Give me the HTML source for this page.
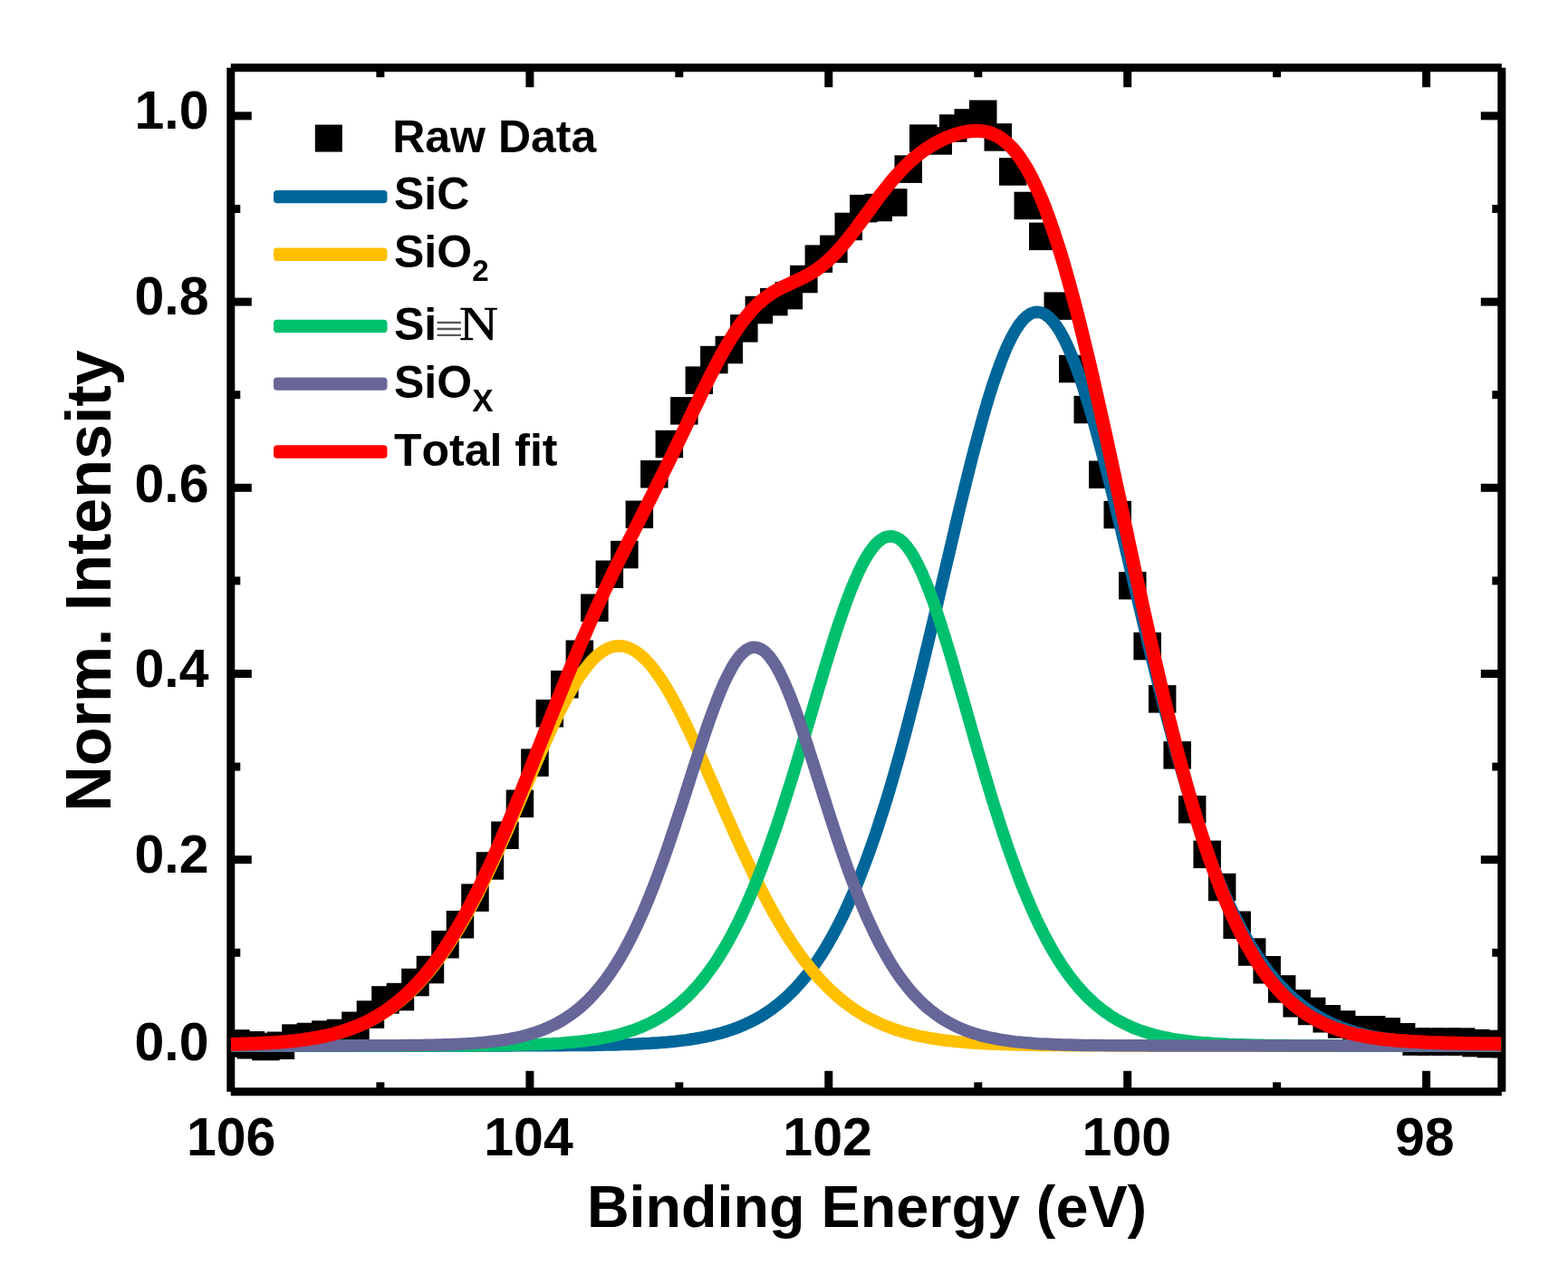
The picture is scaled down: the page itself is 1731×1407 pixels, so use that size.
<!DOCTYPE html><html><head><meta charset="utf-8"><style>html,body{margin:0;padding:0;background:#fff;}svg{display:block;}text{font-kerning:none;}</style></head><body>
<svg width="1731" height="1407" viewBox="0 0 1731 1407">
<rect width="1731" height="1407" fill="#fff"/>
<defs><clipPath id="pc"><rect x="254.8" y="74.75" width="1403.0" height="1130.05"/></clipPath></defs>
<g stroke="#000" stroke-width="9" fill="none">
<line x1="419.9" y1="1204.8" x2="419.9" y2="1194.3"/>
<line x1="419.9" y1="74.75" x2="419.9" y2="85.25"/>
<line x1="584.9" y1="1204.8" x2="584.9" y2="1181.8"/>
<line x1="584.9" y1="74.75" x2="584.9" y2="96.25"/>
<line x1="749.8" y1="1204.8" x2="749.8" y2="1194.3"/>
<line x1="749.8" y1="74.75" x2="749.8" y2="85.25"/>
<line x1="914.8" y1="1204.8" x2="914.8" y2="1181.8"/>
<line x1="914.8" y1="74.75" x2="914.8" y2="96.25"/>
<line x1="1079.8" y1="1204.8" x2="1079.8" y2="1194.3"/>
<line x1="1079.8" y1="74.75" x2="1079.8" y2="85.25"/>
<line x1="1244.7" y1="1204.8" x2="1244.7" y2="1181.8"/>
<line x1="1244.7" y1="74.75" x2="1244.7" y2="96.25"/>
<line x1="1409.6" y1="1204.8" x2="1409.6" y2="1194.3"/>
<line x1="1409.6" y1="74.75" x2="1409.6" y2="85.25"/>
<line x1="1574.6" y1="1204.8" x2="1574.6" y2="1181.8"/>
<line x1="1574.6" y1="74.75" x2="1574.6" y2="96.25"/>
<line x1="254.8" y1="1153.9" x2="277.8" y2="1153.9"/>
<line x1="1657.8" y1="1153.9" x2="1634.8" y2="1153.9"/>
<line x1="254.8" y1="1051.3" x2="265.3" y2="1051.3"/>
<line x1="1657.8" y1="1051.3" x2="1647.3" y2="1051.3"/>
<line x1="254.8" y1="948.7" x2="277.8" y2="948.7"/>
<line x1="1657.8" y1="948.7" x2="1634.8" y2="948.7"/>
<line x1="254.8" y1="846.1" x2="265.3" y2="846.1"/>
<line x1="1657.8" y1="846.1" x2="1647.3" y2="846.1"/>
<line x1="254.8" y1="743.5" x2="277.8" y2="743.5"/>
<line x1="1657.8" y1="743.5" x2="1634.8" y2="743.5"/>
<line x1="254.8" y1="640.9" x2="265.3" y2="640.9"/>
<line x1="1657.8" y1="640.9" x2="1647.3" y2="640.9"/>
<line x1="254.8" y1="538.3" x2="277.8" y2="538.3"/>
<line x1="1657.8" y1="538.3" x2="1634.8" y2="538.3"/>
<line x1="254.8" y1="435.7" x2="265.3" y2="435.7"/>
<line x1="1657.8" y1="435.7" x2="1647.3" y2="435.7"/>
<line x1="254.8" y1="333.1" x2="277.8" y2="333.1"/>
<line x1="1657.8" y1="333.1" x2="1634.8" y2="333.1"/>
<line x1="254.8" y1="230.5" x2="265.3" y2="230.5"/>
<line x1="1657.8" y1="230.5" x2="1647.3" y2="230.5"/>
<line x1="254.8" y1="127.9" x2="277.8" y2="127.9"/>
<line x1="1657.8" y1="127.9" x2="1634.8" y2="127.9"/>
</g>
<g stroke="#000" stroke-width="9" fill="none">
<line x1="254.8" y1="74.75" x2="1657.8" y2="74.75"/>
<line x1="254.8" y1="1204.8" x2="1657.8" y2="1204.8"/>
<line x1="254.8" y1="74.75" x2="254.8" y2="1204.8"/>
<line x1="1657.8" y1="74.75" x2="1657.8" y2="1204.8"/>
</g>
<g clip-path="url(#pc)" fill="#000">
<rect x="245.2" y="1136.2" width="30.5" height="30.5"/>
<rect x="261.7" y="1138.0" width="30.5" height="30.5"/>
<rect x="278.2" y="1139.8" width="30.5" height="30.5"/>
<rect x="294.7" y="1138.5" width="30.5" height="30.5"/>
<rect x="311.2" y="1130.3" width="30.5" height="30.5"/>
<rect x="327.7" y="1128.7" width="30.5" height="30.5"/>
<rect x="344.2" y="1126.3" width="30.5" height="30.5"/>
<rect x="360.7" y="1124.7" width="30.5" height="30.5"/>
<rect x="377.2" y="1116.5" width="30.5" height="30.5"/>
<rect x="393.7" y="1104.3" width="30.5" height="30.5"/>
<rect x="410.2" y="1088.2" width="30.5" height="30.5"/>
<rect x="426.7" y="1084.8" width="30.5" height="30.5"/>
<rect x="443.2" y="1068.8" width="30.5" height="30.5"/>
<rect x="459.7" y="1054.8" width="30.5" height="30.5"/>
<rect x="476.2" y="1027.0" width="30.5" height="30.5"/>
<rect x="492.7" y="1005.0" width="30.5" height="30.5"/>
<rect x="509.2" y="975.4" width="30.5" height="30.5"/>
<rect x="525.7" y="940.2" width="30.5" height="30.5"/>
<rect x="542.2" y="906.5" width="30.5" height="30.5"/>
<rect x="558.7" y="871.6" width="30.5" height="30.5"/>
<rect x="575.2" y="826.4" width="30.5" height="30.5"/>
<rect x="591.6" y="772.0" width="30.5" height="30.5"/>
<rect x="608.1" y="740.0" width="30.5" height="30.5"/>
<rect x="624.6" y="706.5" width="30.5" height="30.5"/>
<rect x="641.1" y="655.5" width="30.5" height="30.5"/>
<rect x="657.6" y="618.5" width="30.5" height="30.5"/>
<rect x="674.1" y="596.8" width="30.5" height="30.5"/>
<rect x="690.6" y="552.5" width="30.5" height="30.5"/>
<rect x="707.1" y="508.0" width="30.5" height="30.5"/>
<rect x="723.6" y="474.8" width="30.5" height="30.5"/>
<rect x="740.1" y="438.1" width="30.5" height="30.5"/>
<rect x="756.6" y="404.4" width="30.5" height="30.5"/>
<rect x="773.1" y="381.8" width="30.5" height="30.5"/>
<rect x="789.6" y="370.8" width="30.5" height="30.5"/>
<rect x="806.1" y="347.1" width="30.5" height="30.5"/>
<rect x="822.6" y="326.8" width="30.5" height="30.5"/>
<rect x="839.1" y="317.9" width="30.5" height="30.5"/>
<rect x="855.6" y="310.9" width="30.5" height="30.5"/>
<rect x="872.1" y="292.8" width="30.5" height="30.5"/>
<rect x="888.6" y="270.4" width="30.5" height="30.5"/>
<rect x="905.1" y="259.6" width="30.5" height="30.5"/>
<rect x="921.5" y="234.7" width="30.5" height="30.5"/>
<rect x="938.0" y="214.9" width="30.5" height="30.5"/>
<rect x="954.5" y="213.8" width="30.5" height="30.5"/>
<rect x="971.0" y="208.2" width="30.5" height="30.5"/>
<rect x="987.5" y="171.4" width="30.5" height="30.5"/>
<rect x="1004.0" y="137.4" width="30.5" height="30.5"/>
<rect x="1020.5" y="140.2" width="30.5" height="30.5"/>
<rect x="1037.0" y="126.3" width="30.5" height="30.5"/>
<rect x="1053.5" y="120.2" width="30.5" height="30.5"/>
<rect x="1070.0" y="110.5" width="30.5" height="30.5"/>
<rect x="1086.5" y="136.2" width="30.5" height="30.5"/>
<rect x="1103.0" y="174.2" width="30.5" height="30.5"/>
<rect x="1119.5" y="211.7" width="30.5" height="30.5"/>
<rect x="1136.0" y="245.6" width="30.5" height="30.5"/>
<rect x="1152.5" y="322.4" width="30.5" height="30.5"/>
<rect x="1169.0" y="391.8" width="30.5" height="30.5"/>
<rect x="1185.5" y="436.8" width="30.5" height="30.5"/>
<rect x="1202.0" y="508.5" width="30.5" height="30.5"/>
<rect x="1218.5" y="552.8" width="30.5" height="30.5"/>
<rect x="1235.0" y="631.0" width="30.5" height="30.5"/>
<rect x="1251.4" y="697.8" width="30.5" height="30.5"/>
<rect x="1267.9" y="756.1" width="30.5" height="30.5"/>
<rect x="1284.4" y="818.1" width="30.5" height="30.5"/>
<rect x="1300.9" y="878.0" width="30.5" height="30.5"/>
<rect x="1317.4" y="927.6" width="30.5" height="30.5"/>
<rect x="1333.9" y="963.8" width="30.5" height="30.5"/>
<rect x="1350.4" y="1005.5" width="30.5" height="30.5"/>
<rect x="1366.9" y="1035.3" width="30.5" height="30.5"/>
<rect x="1383.4" y="1055.0" width="30.5" height="30.5"/>
<rect x="1399.9" y="1076.2" width="30.5" height="30.5"/>
<rect x="1416.4" y="1092.0" width="30.5" height="30.5"/>
<rect x="1432.9" y="1100.7" width="30.5" height="30.5"/>
<rect x="1449.4" y="1109.0" width="30.5" height="30.5"/>
<rect x="1465.9" y="1115.2" width="30.5" height="30.5"/>
<rect x="1482.4" y="1121.0" width="30.5" height="30.5"/>
<rect x="1498.9" y="1121.0" width="30.5" height="30.5"/>
<rect x="1515.4" y="1123.0" width="30.5" height="30.5"/>
<rect x="1531.9" y="1129.0" width="30.5" height="30.5"/>
<rect x="1548.4" y="1134.3" width="30.5" height="30.5"/>
<rect x="1564.9" y="1134.3" width="30.5" height="30.5"/>
<rect x="1581.3" y="1134.3" width="30.5" height="30.5"/>
<rect x="1597.8" y="1134.3" width="30.5" height="30.5"/>
<rect x="1614.3" y="1135.8" width="30.5" height="30.5"/>
<rect x="1630.8" y="1136.8" width="30.5" height="30.5"/>
<rect x="1647.3" y="1136.8" width="30.5" height="30.5"/>
</g>
<g fill="none" stroke-linejoin="round">
<polyline stroke="#006699" stroke-width="13.5" points="255.0,1153.9 259.1,1153.9 263.2,1153.9 267.4,1153.9 271.5,1153.9 275.6,1153.9 279.7,1153.9 283.9,1153.9 288.0,1153.9 292.1,1153.9 296.2,1153.9 300.4,1153.9 304.5,1153.9 308.6,1153.9 312.7,1153.9 316.9,1153.9 321.0,1153.9 325.1,1153.9 329.2,1153.9 333.4,1153.9 337.5,1153.9 341.6,1153.9 345.7,1153.9 349.8,1153.9 354.0,1153.9 358.1,1153.9 362.2,1153.9 366.3,1153.9 370.5,1153.9 374.6,1153.9 378.7,1153.9 382.8,1153.9 387.0,1153.9 391.1,1153.9 395.2,1153.9 399.3,1153.9 403.5,1153.9 407.6,1153.9 411.7,1153.9 415.8,1153.9 419.9,1153.9 424.1,1153.9 428.2,1153.9 432.3,1153.9 436.4,1153.9 440.6,1153.9 444.7,1153.9 448.8,1153.9 452.9,1153.9 457.1,1153.9 461.2,1153.9 465.3,1153.9 469.4,1153.9 473.6,1153.9 477.7,1153.9 481.8,1153.9 485.9,1153.9 490.1,1153.9 494.2,1153.9 498.3,1153.9 502.4,1153.9 506.5,1153.9 510.7,1153.9 514.8,1153.9 518.9,1153.9 523.0,1153.9 527.2,1153.9 531.3,1153.9 535.4,1153.9 539.5,1153.9 543.7,1153.9 547.8,1153.9 551.9,1153.9 556.0,1153.9 560.2,1153.9 564.3,1153.9 568.4,1153.8 572.5,1153.8 576.7,1153.8 580.8,1153.8 584.9,1153.8 589.0,1153.8 593.1,1153.8 597.3,1153.8 601.4,1153.8 605.5,1153.8 609.6,1153.7 613.8,1153.7 617.9,1153.7 622.0,1153.7 626.1,1153.6 630.3,1153.6 634.4,1153.6 638.5,1153.5 642.6,1153.5 646.8,1153.5 650.9,1153.4 655.0,1153.4 659.1,1153.3 663.3,1153.2 667.4,1153.1 671.5,1153.1 675.6,1153.0 679.7,1152.9 683.9,1152.8 688.0,1152.6 692.1,1152.5 696.2,1152.4 700.4,1152.2 704.5,1152.0 708.6,1151.8 712.7,1151.6 716.9,1151.4 721.0,1151.1 725.1,1150.9 729.2,1150.6 733.4,1150.2 737.5,1149.9 741.6,1149.5 745.7,1149.1 749.8,1148.6 754.0,1148.1 758.1,1147.6 762.2,1147.0 766.3,1146.3 770.5,1145.6 774.6,1144.9 778.7,1144.1 782.8,1143.2 787.0,1142.3 791.1,1141.3 795.2,1140.2 799.3,1139.0 803.5,1137.7 807.6,1136.3 811.7,1134.8 815.8,1133.3 820.0,1131.6 824.1,1129.7 828.2,1127.8 832.3,1125.7 836.4,1123.5 840.6,1121.1 844.7,1118.5 848.8,1115.8 852.9,1112.9 857.1,1109.7 861.2,1106.4 865.3,1102.9 869.4,1099.2 873.6,1095.2 877.7,1091.0 881.8,1086.5 885.9,1081.8 890.1,1076.8 894.2,1071.5 898.3,1065.9 902.4,1060.0 906.6,1053.8 910.7,1047.2 914.8,1040.3 918.9,1033.0 923.0,1025.4 927.2,1017.4 931.3,1009.0 935.4,1000.2 939.5,991.0 943.7,981.4 947.8,971.4 951.9,960.9 956.0,950.1 960.2,938.7 964.3,927.0 968.4,914.8 972.5,902.2 976.7,889.2 980.8,875.7 984.9,861.8 989.0,847.5 993.2,832.7 997.3,817.6 1001.4,802.2 1005.5,786.3 1009.6,770.2 1013.8,753.7 1017.9,736.9 1022.0,719.9 1026.1,702.7 1030.3,685.3 1034.4,667.8 1038.5,650.1 1042.6,632.5 1046.8,614.8 1050.9,597.2 1055.0,579.6 1059.1,562.3 1063.3,545.2 1067.4,528.3 1071.5,511.8 1075.6,495.8 1079.8,480.2 1083.9,465.1 1088.0,450.7 1092.1,436.9 1096.2,423.9 1100.4,411.7 1104.5,400.4 1108.6,389.9 1112.7,380.4 1116.9,372.0 1121.0,364.6 1125.1,358.3 1129.2,353.1 1133.4,349.1 1137.5,346.3 1141.6,344.7 1145.7,344.3 1149.9,345.1 1154.0,347.0 1158.1,350.1 1162.2,354.4 1166.3,359.7 1170.5,366.2 1174.6,373.7 1178.7,382.3 1182.8,391.8 1187.0,402.2 1191.1,413.5 1195.2,425.7 1199.3,438.6 1203.5,452.2 1207.6,466.5 1211.7,481.4 1215.8,496.8 1220.0,512.6 1224.1,528.9 1228.2,545.5 1232.3,562.3 1236.5,579.4 1240.6,596.7 1244.7,614.0 1248.8,631.4 1252.9,648.8 1257.1,666.2 1261.2,683.5 1265.3,700.6 1269.4,717.6 1273.6,734.4 1277.7,750.9 1281.8,767.2 1285.9,783.2 1290.1,798.8 1294.2,814.2 1298.3,829.1 1302.4,843.7 1306.6,857.9 1310.7,871.7 1314.8,885.1 1318.9,898.1 1323.1,910.7 1327.2,922.8 1331.3,934.5 1335.4,945.8 1339.5,956.7 1343.7,967.2 1347.8,977.2 1351.9,986.8 1356.0,996.1 1360.2,1004.9 1364.3,1013.4 1368.4,1021.4 1372.5,1029.1 1376.7,1036.5 1380.8,1043.5 1384.9,1050.1 1389.0,1056.4 1393.2,1062.4 1397.3,1068.1 1401.4,1073.5 1405.5,1078.6 1409.6,1083.5 1413.8,1088.1 1417.9,1092.4 1422.0,1096.4 1426.1,1100.3 1430.3,1103.9 1434.4,1107.3 1438.5,1110.5 1442.6,1113.5 1446.8,1116.4 1450.9,1119.0 1455.0,1121.5 1459.1,1123.8 1463.3,1126.0 1467.4,1128.1 1471.5,1130.0 1475.6,1131.7 1479.8,1133.4 1483.9,1135.0 1488.0,1136.4 1492.1,1137.8 1496.2,1139.0 1500.4,1140.2 1504.5,1141.3 1508.6,1142.3 1512.7,1143.2 1516.9,1144.1 1521.0,1144.9 1525.1,1145.6 1529.2,1146.3 1533.4,1146.9 1537.5,1147.5 1541.6,1148.0 1545.7,1148.5 1549.9,1149.0 1554.0,1149.4 1558.1,1149.8 1562.2,1150.2 1566.4,1150.5 1570.5,1150.8 1574.6,1151.1 1578.7,1151.3 1582.8,1151.6 1587.0,1151.8 1591.1,1152.0 1595.2,1152.1 1599.3,1152.3 1603.5,1152.5 1607.6,1152.6 1611.7,1152.7 1615.8,1152.8 1620.0,1152.9 1624.1,1153.0 1628.2,1153.1 1632.3,1153.2 1636.5,1153.3 1640.6,1153.3 1644.7,1153.4 1648.8,1153.4 1653.0,1153.5 1657.1,1153.5"/>
<polyline stroke="#FFC000" stroke-width="13.5" points="255.0,1153.0 259.1,1152.9 263.2,1152.7 267.4,1152.6 271.5,1152.5 275.6,1152.3 279.7,1152.2 283.9,1152.0 288.0,1151.8 292.1,1151.6 296.2,1151.3 300.4,1151.0 304.5,1150.8 308.6,1150.4 312.7,1150.1 316.9,1149.7 321.0,1149.3 325.1,1148.9 329.2,1148.4 333.4,1147.9 337.5,1147.3 341.6,1146.7 345.7,1146.0 349.8,1145.3 354.0,1144.5 358.1,1143.6 362.2,1142.7 366.3,1141.7 370.5,1140.7 374.6,1139.5 378.7,1138.3 382.8,1137.0 387.0,1135.6 391.1,1134.1 395.2,1132.4 399.3,1130.7 403.5,1128.8 407.6,1126.9 411.7,1124.7 415.8,1122.5 419.9,1120.1 424.1,1117.5 428.2,1114.8 432.3,1112.0 436.4,1108.9 440.6,1105.7 444.7,1102.3 448.8,1098.7 452.9,1094.9 457.1,1090.9 461.2,1086.7 465.3,1082.2 469.4,1077.6 473.6,1072.7 477.7,1067.6 481.8,1062.2 485.9,1056.6 490.1,1050.8 494.2,1044.7 498.3,1038.4 502.4,1031.8 506.5,1025.0 510.7,1018.0 514.8,1010.7 518.9,1003.1 523.0,995.4 527.2,987.4 531.3,979.1 535.4,970.7 539.5,962.1 543.7,953.3 547.8,944.3 551.9,935.1 556.0,925.8 560.2,916.4 564.3,906.9 568.4,897.3 572.5,887.6 576.7,877.9 580.8,868.2 584.9,858.5 589.0,848.8 593.1,839.3 597.3,829.8 601.4,820.5 605.5,811.4 609.6,802.5 613.8,793.8 617.9,785.4 622.0,777.3 626.1,769.5 630.3,762.1 634.4,755.2 638.5,748.6 642.6,742.6 646.8,737.0 650.9,731.9 655.0,727.4 659.1,723.5 663.3,720.2 667.4,717.4 671.5,715.3 675.6,713.8 679.7,712.9 683.9,712.7 688.0,713.1 692.1,714.1 696.2,715.7 700.4,717.9 704.5,720.7 708.6,724.1 712.7,728.0 716.9,732.5 721.0,737.4 725.1,742.9 729.2,748.8 733.4,755.2 737.5,762.0 741.6,769.2 745.7,776.8 749.8,784.6 754.0,792.8 758.1,801.3 762.2,809.9 766.3,818.8 770.5,827.9 774.6,837.1 778.7,846.4 782.8,855.8 787.0,865.2 791.1,874.7 795.2,884.1 799.3,893.6 803.5,903.0 807.6,912.3 811.7,921.6 815.8,930.7 820.0,939.7 824.1,948.5 828.2,957.2 832.3,965.8 836.4,974.1 840.6,982.3 844.7,990.2 848.8,997.9 852.9,1005.4 857.1,1012.7 861.2,1019.8 865.3,1026.6 869.4,1033.2 873.6,1039.6 877.7,1045.7 881.8,1051.6 885.9,1057.3 890.1,1062.7 894.2,1067.9 898.3,1072.9 902.4,1077.6 906.6,1082.2 910.7,1086.5 914.8,1090.6 918.9,1094.5 923.0,1098.3 927.2,1101.8 931.3,1105.2 935.4,1108.3 939.5,1111.3 943.7,1114.2 947.8,1116.9 951.9,1119.4 956.0,1121.8 960.2,1124.0 964.3,1126.1 968.4,1128.1 972.5,1130.0 976.7,1131.7 980.8,1133.3 984.9,1134.9 989.0,1136.3 993.2,1137.6 997.3,1138.9 1001.4,1140.0 1005.5,1141.1 1009.6,1142.1 1013.8,1143.1 1017.9,1143.9 1022.0,1144.7 1026.1,1145.5 1030.3,1146.2 1034.4,1146.8 1038.5,1147.4 1042.6,1148.0 1046.8,1148.5 1050.9,1148.9 1055.0,1149.4 1059.1,1149.8 1063.3,1150.1 1067.4,1150.5 1071.5,1150.8 1075.6,1151.0 1079.8,1151.3 1083.9,1151.5 1088.0,1151.8 1092.1,1152.0 1096.2,1152.1 1100.4,1152.3 1104.5,1152.5 1108.6,1152.6 1112.7,1152.7 1116.9,1152.8 1121.0,1152.9 1125.1,1153.0 1129.2,1153.1 1133.4,1153.2 1137.5,1153.3 1141.6,1153.3 1145.7,1153.4 1149.9,1153.4 1154.0,1153.5 1158.1,1153.5 1162.2,1153.6 1166.3,1153.6 1170.5,1153.6 1174.6,1153.7 1178.7,1153.7 1182.8,1153.7 1187.0,1153.7 1191.1,1153.8 1195.2,1153.8 1199.3,1153.8 1203.5,1153.8 1207.6,1153.8 1211.7,1153.8 1215.8,1153.8 1220.0,1153.8 1224.1,1153.8 1228.2,1153.8 1232.3,1153.9 1236.5,1153.9 1240.6,1153.9 1244.7,1153.9 1248.8,1153.9 1252.9,1153.9 1257.1,1153.9 1261.2,1153.9 1265.3,1153.9 1269.4,1153.9 1273.6,1153.9 1277.7,1153.9 1281.8,1153.9 1285.9,1153.9 1290.1,1153.9 1294.2,1153.9 1298.3,1153.9 1302.4,1153.9 1306.6,1153.9 1310.7,1153.9 1314.8,1153.9 1318.9,1153.9 1323.1,1153.9 1327.2,1153.9 1331.3,1153.9 1335.4,1153.9 1339.5,1153.9 1343.7,1153.9 1347.8,1153.9 1351.9,1153.9 1356.0,1153.9 1360.2,1153.9 1364.3,1153.9 1368.4,1153.9 1372.5,1153.9 1376.7,1153.9 1380.8,1153.9 1384.9,1153.9 1389.0,1153.9 1393.2,1153.9 1397.3,1153.9 1401.4,1153.9 1405.5,1153.9 1409.6,1153.9 1413.8,1153.9 1417.9,1153.9 1422.0,1153.9 1426.1,1153.9 1430.3,1153.9 1434.4,1153.9 1438.5,1153.9 1442.6,1153.9 1446.8,1153.9 1450.9,1153.9 1455.0,1153.9 1459.1,1153.9 1463.3,1153.9 1467.4,1153.9 1471.5,1153.9 1475.6,1153.9 1479.8,1153.9 1483.9,1153.9 1488.0,1153.9 1492.1,1153.9 1496.2,1153.9 1500.4,1153.9 1504.5,1153.9 1508.6,1153.9 1512.7,1153.9 1516.9,1153.9 1521.0,1153.9 1525.1,1153.9 1529.2,1153.9 1533.4,1153.9 1537.5,1153.9 1541.6,1153.9 1545.7,1153.9 1549.9,1153.9 1554.0,1153.9 1558.1,1153.9 1562.2,1153.9 1566.4,1153.9 1570.5,1153.9 1574.6,1153.9 1578.7,1153.9 1582.8,1153.9 1587.0,1153.9 1591.1,1153.9 1595.2,1153.9 1599.3,1153.9 1603.5,1153.9 1607.6,1153.9 1611.7,1153.9 1615.8,1153.9 1620.0,1153.9 1624.1,1153.9 1628.2,1153.9 1632.3,1153.9 1636.5,1153.9 1640.6,1153.9 1644.7,1153.9 1648.8,1153.9 1653.0,1153.9 1657.1,1153.9"/>
<polyline stroke="#00C06E" stroke-width="13.5" points="255.0,1153.9 259.1,1153.9 263.2,1153.9 267.4,1153.9 271.5,1153.9 275.6,1153.9 279.7,1153.9 283.9,1153.9 288.0,1153.9 292.1,1153.9 296.2,1153.9 300.4,1153.9 304.5,1153.9 308.6,1153.9 312.7,1153.9 316.9,1153.9 321.0,1153.9 325.1,1153.9 329.2,1153.9 333.4,1153.9 337.5,1153.9 341.6,1153.9 345.7,1153.9 349.8,1153.9 354.0,1153.9 358.1,1153.9 362.2,1153.9 366.3,1153.9 370.5,1153.9 374.6,1153.9 378.7,1153.9 382.8,1153.9 387.0,1153.9 391.1,1153.9 395.2,1153.9 399.3,1153.9 403.5,1153.9 407.6,1153.9 411.7,1153.9 415.8,1153.9 419.9,1153.9 424.1,1153.9 428.2,1153.9 432.3,1153.9 436.4,1153.9 440.6,1153.9 444.7,1153.9 448.8,1153.9 452.9,1153.9 457.1,1153.9 461.2,1153.9 465.3,1153.9 469.4,1153.9 473.6,1153.9 477.7,1153.8 481.8,1153.8 485.9,1153.8 490.1,1153.8 494.2,1153.8 498.3,1153.8 502.4,1153.8 506.5,1153.8 510.7,1153.8 514.8,1153.7 518.9,1153.7 523.0,1153.7 527.2,1153.7 531.3,1153.6 535.4,1153.6 539.5,1153.6 543.7,1153.5 547.8,1153.5 551.9,1153.4 556.0,1153.4 560.2,1153.3 564.3,1153.2 568.4,1153.1 572.5,1153.0 576.7,1152.9 580.8,1152.8 584.9,1152.7 589.0,1152.6 593.1,1152.4 597.3,1152.3 601.4,1152.1 605.5,1151.9 609.6,1151.7 613.8,1151.4 617.9,1151.2 622.0,1150.9 626.1,1150.6 630.3,1150.2 634.4,1149.8 638.5,1149.4 642.6,1149.0 646.8,1148.5 650.9,1147.9 655.0,1147.3 659.1,1146.7 663.3,1146.0 667.4,1145.2 671.5,1144.4 675.6,1143.5 679.7,1142.5 683.9,1141.5 688.0,1140.3 692.1,1139.1 696.2,1137.7 700.4,1136.3 704.5,1134.7 708.6,1133.1 712.7,1131.2 716.9,1129.3 721.0,1127.2 725.1,1125.0 729.2,1122.6 733.4,1120.0 737.5,1117.2 741.6,1114.3 745.7,1111.1 749.8,1107.8 754.0,1104.2 758.1,1100.3 762.2,1096.3 766.3,1091.9 770.5,1087.3 774.6,1082.5 778.7,1077.3 782.8,1071.8 787.0,1066.0 791.1,1059.9 795.2,1053.5 799.3,1046.7 803.5,1039.6 807.6,1032.1 811.7,1024.2 815.8,1016.0 820.0,1007.3 824.1,998.3 828.2,988.9 832.3,979.1 836.4,969.0 840.6,958.4 844.7,947.4 848.8,936.1 852.9,924.4 857.1,912.4 861.2,900.1 865.3,887.4 869.4,874.4 873.6,861.2 877.7,847.7 881.8,834.1 885.9,820.3 890.1,806.3 894.2,792.3 898.3,778.3 902.4,764.3 906.6,750.5 910.7,736.7 914.8,723.2 918.9,710.0 923.0,697.1 927.2,684.7 931.3,672.8 935.4,661.4 939.5,650.7 943.7,640.7 947.8,631.4 951.9,623.0 956.0,615.5 960.2,609.0 964.3,603.4 968.4,598.9 972.5,595.5 976.7,593.1 980.8,591.9 984.9,591.8 989.0,592.9 993.2,595.2 997.3,598.7 1001.4,603.4 1005.5,609.1 1009.6,616.0 1013.8,623.8 1017.9,632.6 1022.0,642.3 1026.1,652.8 1030.3,664.0 1034.4,675.9 1038.5,688.4 1042.6,701.5 1046.8,714.9 1050.9,728.7 1055.0,742.8 1059.1,757.1 1063.3,771.5 1067.4,786.0 1071.5,800.5 1075.6,814.9 1079.8,829.3 1083.9,843.4 1088.0,857.4 1092.1,871.2 1096.2,884.7 1100.4,897.8 1104.5,910.7 1108.6,923.2 1112.7,935.3 1116.9,947.0 1121.0,958.3 1125.1,969.3 1129.2,979.8 1133.4,989.9 1137.5,999.6 1141.6,1008.8 1145.7,1017.7 1149.9,1026.1 1154.0,1034.2 1158.1,1041.8 1162.2,1049.1 1166.3,1056.0 1170.5,1062.5 1174.6,1068.7 1178.7,1074.5 1182.8,1080.0 1187.0,1085.2 1191.1,1090.1 1195.2,1094.6 1199.3,1099.0 1203.5,1103.0 1207.6,1106.8 1211.7,1110.3 1215.8,1113.6 1220.0,1116.7 1224.1,1119.6 1228.2,1122.3 1232.3,1124.8 1236.5,1127.1 1240.6,1129.3 1244.7,1131.3 1248.8,1133.2 1252.9,1134.9 1257.1,1136.5 1261.2,1138.0 1265.3,1139.3 1269.4,1140.6 1273.6,1141.8 1277.7,1142.8 1281.8,1143.8 1285.9,1144.7 1290.1,1145.5 1294.2,1146.3 1298.3,1147.0 1302.4,1147.6 1306.6,1148.2 1310.7,1148.8 1314.8,1149.2 1318.9,1149.7 1323.1,1150.1 1327.2,1150.5 1331.3,1150.8 1335.4,1151.1 1339.5,1151.4 1343.7,1151.6 1347.8,1151.9 1351.9,1152.1 1356.0,1152.3 1360.2,1152.4 1364.3,1152.6 1368.4,1152.7 1372.5,1152.8 1376.7,1153.0 1380.8,1153.1 1384.9,1153.2 1389.0,1153.2 1393.2,1153.3 1397.3,1153.4 1401.4,1153.4 1405.5,1153.5 1409.6,1153.5 1413.8,1153.6 1417.9,1153.6 1422.0,1153.6 1426.1,1153.7 1430.3,1153.7 1434.4,1153.7 1438.5,1153.7 1442.6,1153.8 1446.8,1153.8 1450.9,1153.8 1455.0,1153.8 1459.1,1153.8 1463.3,1153.8 1467.4,1153.8 1471.5,1153.8 1475.6,1153.9 1479.8,1153.9 1483.9,1153.9 1488.0,1153.9 1492.1,1153.9 1496.2,1153.9 1500.4,1153.9 1504.5,1153.9 1508.6,1153.9 1512.7,1153.9 1516.9,1153.9 1521.0,1153.9 1525.1,1153.9 1529.2,1153.9 1533.4,1153.9 1537.5,1153.9 1541.6,1153.9 1545.7,1153.9 1549.9,1153.9 1554.0,1153.9 1558.1,1153.9 1562.2,1153.9 1566.4,1153.9 1570.5,1153.9 1574.6,1153.9 1578.7,1153.9 1582.8,1153.9 1587.0,1153.9 1591.1,1153.9 1595.2,1153.9 1599.3,1153.9 1603.5,1153.9 1607.6,1153.9 1611.7,1153.9 1615.8,1153.9 1620.0,1153.9 1624.1,1153.9 1628.2,1153.9 1632.3,1153.9 1636.5,1153.9 1640.6,1153.9 1644.7,1153.9 1648.8,1153.9 1653.0,1153.9 1657.1,1153.9"/>
<polyline stroke="#666699" stroke-width="13.5" points="255.0,1153.9 259.1,1153.9 263.2,1153.9 267.4,1153.9 271.5,1153.9 275.6,1153.9 279.7,1153.9 283.9,1153.9 288.0,1153.9 292.1,1153.9 296.2,1153.9 300.4,1153.9 304.5,1153.9 308.6,1153.9 312.7,1153.9 316.9,1153.9 321.0,1153.9 325.1,1153.9 329.2,1153.9 333.4,1153.9 337.5,1153.9 341.6,1153.9 345.7,1153.9 349.8,1153.9 354.0,1153.9 358.1,1153.9 362.2,1153.9 366.3,1153.9 370.5,1153.9 374.6,1153.9 378.7,1153.9 382.8,1153.9 387.0,1153.9 391.1,1153.9 395.2,1153.8 399.3,1153.8 403.5,1153.8 407.6,1153.8 411.7,1153.8 415.8,1153.8 419.9,1153.8 424.1,1153.8 428.2,1153.7 432.3,1153.7 436.4,1153.7 440.6,1153.7 444.7,1153.6 448.8,1153.6 452.9,1153.6 457.1,1153.5 461.2,1153.5 465.3,1153.4 469.4,1153.3 473.6,1153.3 477.7,1153.2 481.8,1153.1 485.9,1153.0 490.1,1152.8 494.2,1152.7 498.3,1152.6 502.4,1152.4 506.5,1152.2 510.7,1152.0 514.8,1151.8 518.9,1151.5 523.0,1151.3 527.2,1150.9 531.3,1150.6 535.4,1150.2 539.5,1149.8 543.7,1149.3 547.8,1148.8 551.9,1148.3 556.0,1147.7 560.2,1147.0 564.3,1146.2 568.4,1145.4 572.5,1144.5 576.7,1143.6 580.8,1142.5 584.9,1141.3 589.0,1140.1 593.1,1138.7 597.3,1137.2 601.4,1135.5 605.5,1133.8 609.6,1131.8 613.8,1129.8 617.9,1127.5 622.0,1125.1 626.1,1122.4 630.3,1119.6 634.4,1116.6 638.5,1113.3 642.6,1109.8 646.8,1106.0 650.9,1101.9 655.0,1097.6 659.1,1092.9 663.3,1088.0 667.4,1082.7 671.5,1077.1 675.6,1071.1 679.7,1064.8 683.9,1058.1 688.0,1051.0 692.1,1043.5 696.2,1035.6 700.4,1027.2 704.5,1018.5 708.6,1009.4 712.7,999.8 716.9,989.8 721.0,979.4 725.1,968.7 729.2,957.5 733.4,946.0 737.5,934.2 741.6,922.0 745.7,909.7 749.8,897.1 754.0,884.3 758.1,871.4 762.2,858.5 766.3,845.6 770.5,832.9 774.6,820.3 778.7,808.0 782.8,796.0 787.0,784.5 791.1,773.6 795.2,763.3 799.3,753.8 803.5,745.1 807.6,737.3 811.7,730.6 815.8,724.9 820.0,720.4 824.1,717.1 828.2,715.0 832.3,714.2 836.4,714.7 840.6,716.4 844.7,719.4 848.8,723.7 852.9,729.1 857.1,735.7 861.2,743.3 865.3,751.9 869.4,761.4 873.6,771.6 877.7,782.5 881.8,794.1 885.9,806.1 890.1,818.5 894.2,831.2 898.3,844.0 902.4,857.1 906.6,870.1 910.7,883.1 914.8,896.0 918.9,908.8 923.0,921.3 927.2,933.6 931.3,945.6 935.4,957.2 939.5,968.5 943.7,979.4 947.8,989.9 951.9,999.9 956.0,1009.6 960.2,1018.8 964.3,1027.6 968.4,1036.0 972.5,1044.0 976.7,1051.5 980.8,1058.7 984.9,1065.4 989.0,1071.8 993.2,1077.8 997.3,1083.4 1001.4,1088.7 1005.5,1093.7 1009.6,1098.3 1013.8,1102.6 1017.9,1106.7 1022.0,1110.5 1026.1,1114.0 1030.3,1117.2 1034.4,1120.3 1038.5,1123.1 1042.6,1125.7 1046.8,1128.1 1050.9,1130.3 1055.0,1132.4 1059.1,1134.3 1063.3,1136.0 1067.4,1137.7 1071.5,1139.1 1075.6,1140.5 1079.8,1141.7 1083.9,1142.9 1088.0,1143.9 1092.1,1144.9 1096.2,1145.7 1100.4,1146.5 1104.5,1147.3 1108.6,1147.9 1112.7,1148.5 1116.9,1149.1 1121.0,1149.6 1125.1,1150.0 1129.2,1150.4 1133.4,1150.8 1137.5,1151.1 1141.6,1151.4 1145.7,1151.7 1149.9,1151.9 1154.0,1152.1 1158.1,1152.3 1162.2,1152.5 1166.3,1152.7 1170.5,1152.8 1174.6,1152.9 1178.7,1153.0 1182.8,1153.1 1187.0,1153.2 1191.1,1153.3 1195.2,1153.4 1199.3,1153.4 1203.5,1153.5 1207.6,1153.5 1211.7,1153.6 1215.8,1153.6 1220.0,1153.7 1224.1,1153.7 1228.2,1153.7 1232.3,1153.7 1236.5,1153.8 1240.6,1153.8 1244.7,1153.8 1248.8,1153.8 1252.9,1153.8 1257.1,1153.8 1261.2,1153.8 1265.3,1153.8 1269.4,1153.9 1273.6,1153.9 1277.7,1153.9 1281.8,1153.9 1285.9,1153.9 1290.1,1153.9 1294.2,1153.9 1298.3,1153.9 1302.4,1153.9 1306.6,1153.9 1310.7,1153.9 1314.8,1153.9 1318.9,1153.9 1323.1,1153.9 1327.2,1153.9 1331.3,1153.9 1335.4,1153.9 1339.5,1153.9 1343.7,1153.9 1347.8,1153.9 1351.9,1153.9 1356.0,1153.9 1360.2,1153.9 1364.3,1153.9 1368.4,1153.9 1372.5,1153.9 1376.7,1153.9 1380.8,1153.9 1384.9,1153.9 1389.0,1153.9 1393.2,1153.9 1397.3,1153.9 1401.4,1153.9 1405.5,1153.9 1409.6,1153.9 1413.8,1153.9 1417.9,1153.9 1422.0,1153.9 1426.1,1153.9 1430.3,1153.9 1434.4,1153.9 1438.5,1153.9 1442.6,1153.9 1446.8,1153.9 1450.9,1153.9 1455.0,1153.9 1459.1,1153.9 1463.3,1153.9 1467.4,1153.9 1471.5,1153.9 1475.6,1153.9 1479.8,1153.9 1483.9,1153.9 1488.0,1153.9 1492.1,1153.9 1496.2,1153.9 1500.4,1153.9 1504.5,1153.9 1508.6,1153.9 1512.7,1153.9 1516.9,1153.9 1521.0,1153.9 1525.1,1153.9 1529.2,1153.9 1533.4,1153.9 1537.5,1153.9 1541.6,1153.9 1545.7,1153.9 1549.9,1153.9 1554.0,1153.9 1558.1,1153.9 1562.2,1153.9 1566.4,1153.9 1570.5,1153.9 1574.6,1153.9 1578.7,1153.9 1582.8,1153.9 1587.0,1153.9 1591.1,1153.9 1595.2,1153.9 1599.3,1153.9 1603.5,1153.9 1607.6,1153.9 1611.7,1153.9 1615.8,1153.9 1620.0,1153.9 1624.1,1153.9 1628.2,1153.9 1632.3,1153.9 1636.5,1153.9 1640.6,1153.9 1644.7,1153.9 1648.8,1153.9 1653.0,1153.9 1657.1,1153.9"/>
<polyline stroke="#FF0000" stroke-width="15" points="255.0,1152.4 259.1,1152.3 263.2,1152.2 267.4,1152.1 271.5,1152.0 275.6,1151.8 279.7,1151.7 283.9,1151.5 288.0,1151.3 292.1,1151.1 296.2,1150.9 300.4,1150.6 304.5,1150.4 308.6,1150.1 312.7,1149.7 316.9,1149.4 321.0,1149.0 325.1,1148.6 329.2,1148.1 333.4,1147.6 337.5,1147.0 341.6,1146.4 345.7,1145.7 349.8,1145.0 354.0,1144.2 358.1,1143.4 362.2,1142.5 366.3,1141.5 370.5,1140.4 374.6,1139.2 378.7,1138.0 382.8,1136.6 387.0,1135.2 391.1,1133.6 395.2,1132.0 399.3,1130.2 403.5,1128.3 407.6,1126.2 411.7,1124.0 415.8,1121.7 419.9,1119.2 424.1,1116.6 428.2,1113.8 432.3,1110.8 436.4,1107.7 440.6,1104.3 444.7,1100.8 448.8,1097.1 452.9,1093.1 457.1,1089.0 461.2,1084.6 465.3,1080.1 469.4,1075.3 473.6,1070.2 477.7,1065.0 481.8,1059.5 485.9,1053.8 490.1,1047.8 494.2,1041.6 498.3,1035.1 502.4,1028.4 506.5,1021.4 510.7,1014.2 514.8,1006.8 518.9,999.1 523.0,991.2 527.2,983.1 531.3,974.7 535.4,966.1 539.5,957.3 543.7,948.3 547.8,939.2 551.9,929.8 556.0,920.3 560.2,910.6 564.3,900.7 568.4,890.8 572.5,880.7 576.7,870.5 580.8,860.3 584.9,849.9 589.0,839.5 593.1,829.1 597.3,818.7 601.4,808.2 605.5,797.8 609.6,787.4 613.8,777.1 617.9,766.8 622.0,756.6 626.1,746.4 630.3,736.4 634.4,726.5 638.5,716.7 642.6,707.0 646.8,697.5 650.9,688.1 655.0,678.8 659.1,669.7 663.3,660.8 667.4,651.9 671.5,643.2 675.6,634.6 679.7,626.1 683.9,617.7 688.0,609.4 692.1,601.2 696.2,593.0 700.4,584.9 704.5,576.8 708.6,568.7 712.7,560.6 716.9,552.5 721.0,544.3 725.1,536.1 729.2,527.9 733.4,519.5 737.5,511.2 741.6,502.7 745.7,494.2 749.8,485.7 754.0,477.1 758.1,468.5 762.2,459.8 766.3,451.2 770.5,442.6 774.6,434.1 778.7,425.7 782.8,417.5 787.0,409.4 791.1,401.4 795.2,393.8 799.3,386.4 803.5,379.3 807.6,372.5 811.7,366.1 815.8,360.0 820.0,354.3 824.1,349.1 828.2,344.2 832.3,339.8 836.4,335.7 840.6,332.0 844.7,328.7 848.8,325.7 852.9,323.0 857.1,320.6 861.2,318.3 865.3,316.3 869.4,314.3 873.6,312.4 877.7,310.5 881.8,308.6 885.9,306.6 890.1,304.5 894.2,302.2 898.3,299.6 902.4,296.9 906.6,293.8 910.7,290.5 914.8,286.9 918.9,282.9 923.0,278.7 927.2,274.2 931.3,269.4 935.4,264.4 939.5,259.2 943.7,253.8 947.8,248.3 951.9,242.7 956.0,237.0 960.2,231.4 964.3,225.7 968.4,220.1 972.5,214.6 976.7,209.3 980.8,204.1 984.9,199.1 989.0,194.3 993.2,189.8 997.3,185.5 1001.4,181.4 1005.5,177.6 1009.6,174.0 1013.8,170.6 1017.9,167.5 1022.0,164.6 1026.1,161.9 1030.3,159.4 1034.4,157.1 1038.5,155.0 1042.6,153.0 1046.8,151.3 1050.9,149.7 1055.0,148.3 1059.1,147.0 1063.3,146.0 1067.4,145.2 1071.5,144.7 1075.6,144.4 1079.8,144.4 1083.9,144.7 1088.0,145.3 1092.1,146.4 1096.2,147.9 1100.4,149.8 1104.5,152.2 1108.6,155.2 1112.7,158.7 1116.9,162.8 1121.0,167.5 1125.1,172.9 1129.2,179.0 1133.4,185.7 1137.5,193.1 1141.6,201.3 1145.7,210.2 1149.9,219.8 1154.0,230.1 1158.1,241.2 1162.2,252.9 1166.3,265.3 1170.5,278.4 1174.6,292.2 1178.7,306.6 1182.8,321.6 1187.0,337.1 1191.1,353.1 1195.2,369.7 1199.3,386.7 1203.5,404.1 1207.6,421.9 1211.7,440.0 1215.8,458.4 1220.0,477.0 1224.1,495.8 1228.2,514.8 1232.3,533.9 1236.5,553.1 1240.6,572.3 1244.7,591.4 1248.8,610.5 1252.9,629.6 1257.1,648.5 1261.2,667.2 1265.3,685.7 1269.4,704.0 1273.6,722.1 1277.7,739.8 1281.8,757.3 1285.9,774.4 1290.1,791.2 1294.2,807.5 1298.3,823.5 1302.4,839.1 1306.6,854.3 1310.7,869.0 1314.8,883.3 1318.9,897.1 1323.1,910.5 1327.2,923.4 1331.3,935.8 1335.4,947.8 1339.5,959.3 1343.7,970.4 1347.8,981.0 1351.9,991.1 1356.0,1000.8 1360.2,1010.1 1364.3,1018.9 1368.4,1027.3 1372.5,1035.3 1376.7,1042.9 1380.8,1050.1 1384.9,1056.9 1389.0,1063.4 1393.2,1069.5 1397.3,1075.2 1401.4,1080.6 1405.5,1085.7 1409.6,1090.5 1413.8,1095.0 1417.9,1099.2 1422.0,1103.2 1426.1,1106.9 1430.3,1110.3 1434.4,1113.5 1438.5,1116.5 1442.6,1119.3 1446.8,1121.9 1450.9,1124.3 1455.0,1126.6 1459.1,1128.6 1463.3,1130.6 1467.4,1132.3 1471.5,1134.0 1475.6,1135.5 1479.8,1136.9 1483.9,1138.2 1488.0,1139.4 1492.1,1140.5 1496.2,1141.5 1500.4,1142.4 1504.5,1143.2 1508.6,1144.0 1512.7,1144.7 1516.9,1145.3 1521.0,1145.9 1525.1,1146.5 1529.2,1147.0 1533.4,1147.4 1537.5,1147.8 1541.6,1148.2 1545.7,1148.5 1549.9,1148.8 1554.0,1149.1 1558.1,1149.4 1562.2,1149.6 1566.4,1149.8 1570.5,1150.0 1574.6,1150.2 1578.7,1150.4 1582.8,1150.5 1587.0,1150.7 1591.1,1150.8 1595.2,1150.9 1599.3,1151.0 1603.5,1151.1 1607.6,1151.2 1611.7,1151.3 1615.8,1151.4 1620.0,1151.4 1624.1,1151.5 1628.2,1151.6 1632.3,1151.6 1636.5,1151.7 1640.6,1151.7 1644.7,1151.8 1648.8,1151.8 1653.0,1151.8 1657.1,1151.9"/>
</g>
<g font-family="Liberation Sans, Arial, sans-serif" font-weight="bold" fill="#000">
<text x="230.5" y="1170.2" font-size="59" text-anchor="end">0.0</text>
<text x="230.5" y="963.2" font-size="59" text-anchor="end">0.2</text>
<text x="230.5" y="758.4" font-size="59" text-anchor="end">0.4</text>
<text x="230.5" y="553.6" font-size="59" text-anchor="end">0.6</text>
<text x="230.5" y="346.5" font-size="59" text-anchor="end">0.8</text>
<text x="230.5" y="142.0" font-size="59" text-anchor="end">1.0</text>
<text x="255.2" y="1275" font-size="59" text-anchor="middle">106</text>
<text x="583.5" y="1275" font-size="59" text-anchor="middle">104</text>
<text x="913.6" y="1275" font-size="59" text-anchor="middle">102</text>
<text x="1243.8" y="1275" font-size="59" text-anchor="middle">100</text>
<text x="1572.8" y="1275" font-size="59" text-anchor="middle">98</text>
<text x="957" y="1354.2" font-size="64.7" text-anchor="middle">Binding Energy (eV)</text>
<text transform="translate(122 641.1) rotate(-90)" font-size="70" text-anchor="middle">Norm. Intensity</text>
</g>
<g font-family="Liberation Sans, Arial, sans-serif" font-weight="bold" font-size="50" fill="#000">
<rect x="347.8" y="137.6" width="30" height="30" fill="#000"/>
<text x="433.2" y="168">Raw Data</text>
<rect x="302" y="209.9" width="125.5" height="14.4" rx="4" fill="#006699"/>
<text x="435" y="231">SiC</text>
<rect x="302" y="273.6" width="125.5" height="14.4" rx="4" fill="#FFC000"/>
<text x="435" y="295.3">SiO<tspan font-size="33" dy="14.5">2</tspan></text>
<rect x="302" y="352.8" width="125.5" height="14.4" rx="4" fill="#00C06E"/>
<text x="435" y="374.7">Si</text>
<rect x="302" y="416.4" width="125.5" height="14.4" rx="4" fill="#666699"/>
<text x="435" y="439">SiO<tspan font-size="35" dy="14.6">X</tspan></text>
<rect x="302" y="491.3" width="125.5" height="14.4" rx="4" fill="#FF0000"/>
<text x="435" y="514.4">Total fit</text>
<text transform="translate(479.8 378.95) scale(1.17 1)" font-family="Liberation Serif, Times New Roman, serif" font-weight="normal" font-size="48.4" fill="#5a5a5a">≡</text>
<text transform="translate(506.9 374.9) scale(1.11 1)" font-family="Liberation Serif, Times New Roman, serif" font-weight="normal" font-size="53.5" stroke="#000" stroke-width="0.6">N</text>
</g>
</svg></body></html>
